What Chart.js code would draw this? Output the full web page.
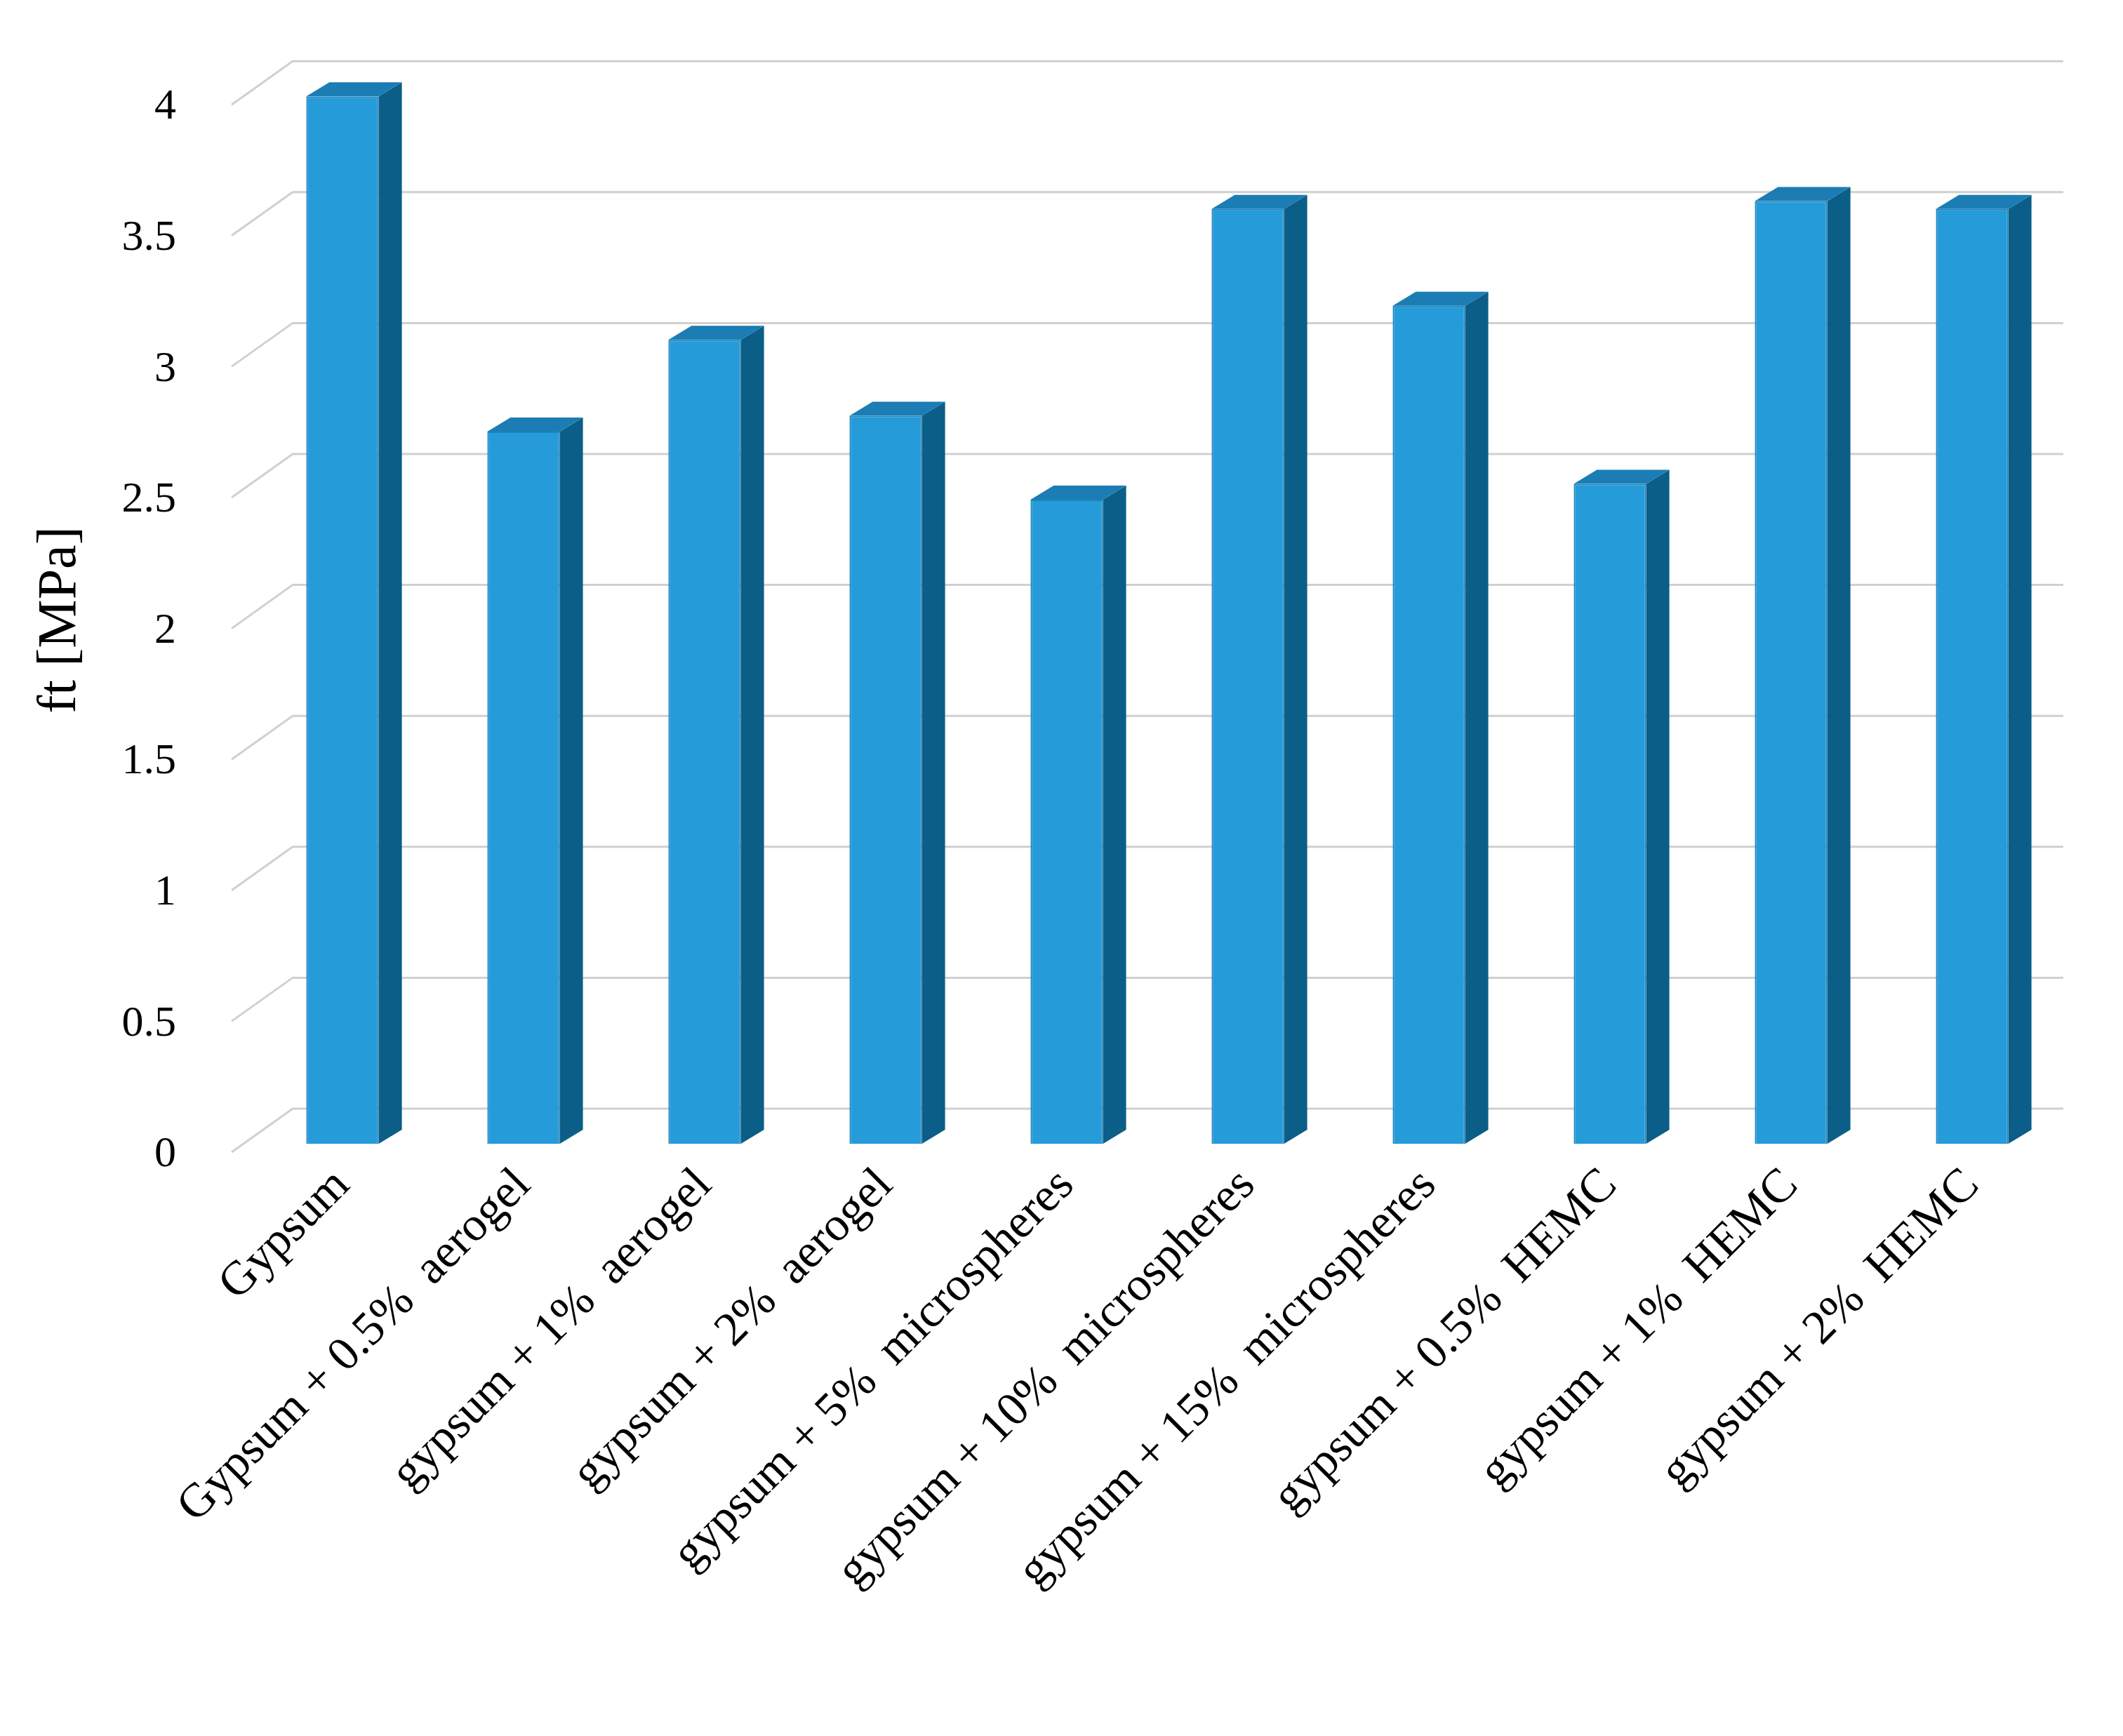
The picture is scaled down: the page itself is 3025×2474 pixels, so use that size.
<!DOCTYPE html>
<html><head><meta charset="utf-8">
<script src="https://cdn.jsdelivr.net/npm/chart.js@4/dist/chart.umd.min.js"></script>
<style>html,body{margin:0;background:#fff}#w{width:3025px;height:2474px}</style>
</head><body><div id="w"><canvas id="c"></canvas></div>
<script>
const categories = ["Gypsum","Gypsum + 0.5%  aerogel","gypsum + 1%  aerogel","gypsum + 2%  aerogel","gypsum + 5%  microspheres","gypsum + 10%  microspheres","gypsum + 15%  microspheres","gypsum + 0.5%  HEMC","gypsum + 1%  HEMC","gypsum + 2%  HEMC"];
const ftValues = [4.0, 2.72, 3.07, 2.78, 2.46, 3.57, 3.2, 2.52, 3.6, 3.57];
const yTicks = [0,0.5,1,1.5,2,2.5,3,3.5,4];

const threeD = {
  id:'threeD',
  beforeDatasetsDraw(chart){
    const ctx=chart.ctx, y=chart.scales.y;
    ctx.save(); ctx.strokeStyle='#d0d0d0'; ctx.lineWidth=3;
    yTicks.forEach(v=>{
      const py=y.getPixelForValue(v)+12;
      ctx.beginPath(); ctx.moveTo(330,py); ctx.lineTo(417,py-62); ctx.lineTo(2940,py-62); ctx.stroke();
    });
    ctx.restore();
  },
  afterDatasetsDraw(chart){
    const ctx=chart.ctx, dx=33, dy=-20;
    chart.getDatasetMeta(0).data.forEach(b=>{
      const l=b.x-b.width/2, r=b.x+b.width/2, t=b.y, bs=b.base;
      ctx.fillStyle='#0B5E87';
      ctx.beginPath(); ctx.moveTo(r,t); ctx.lineTo(r+dx,t+dy); ctx.lineTo(r+dx,bs+dy); ctx.lineTo(r,bs); ctx.closePath(); ctx.fill();
      ctx.fillStyle='#1B7DB3';
      ctx.beginPath(); ctx.moveTo(l,t); ctx.lineTo(l+dx,t+dy); ctx.lineTo(r+dx,t+dy); ctx.lineTo(r,t); ctx.closePath(); ctx.fill();
    });
  }
};

new Chart(document.getElementById('c'),{
  type:'bar',
  data:{labels:categories,datasets:[{data:ftValues,backgroundColor:'#259BDA',borderColor:'#1B84BE',borderWidth:2,barPercentage:0.4,categoryPercentage:1}]},
  options:{
    responsive:true,maintainAspectRatio:false,animation:false,devicePixelRatio:1,
    layout:{padding:{top:46,right:86,left:40,bottom:0}},
    plugins:{legend:{display:false},tooltip:{enabled:false}},
    scales:{
      x:{grid:{display:false},border:{display:false},
        afterFit(s){s.height=844;},
        ticks:{color:'#000',maxRotation:45,minRotation:45,padding:12,font:{family:'Liberation Serif',size:68}}},
      y:{min:0,max:4,grid:{display:false},border:{display:false},
        afterFit(s){s.width=319;},
        afterBuildTicks(s){s.ticks=yTicks.map(v=>({value:v}));},
        title:{display:true,text:'ft [MPa]',color:'#000',font:{family:'Liberation Serif',size:78},padding:0},
        ticks:{color:'#000',padding:100,labelOffset:16,callback:v=>String(v),font:{family:'Liberation Serif',size:62}}}
    }
  },
  plugins:[threeD]
});
</script></body></html>
